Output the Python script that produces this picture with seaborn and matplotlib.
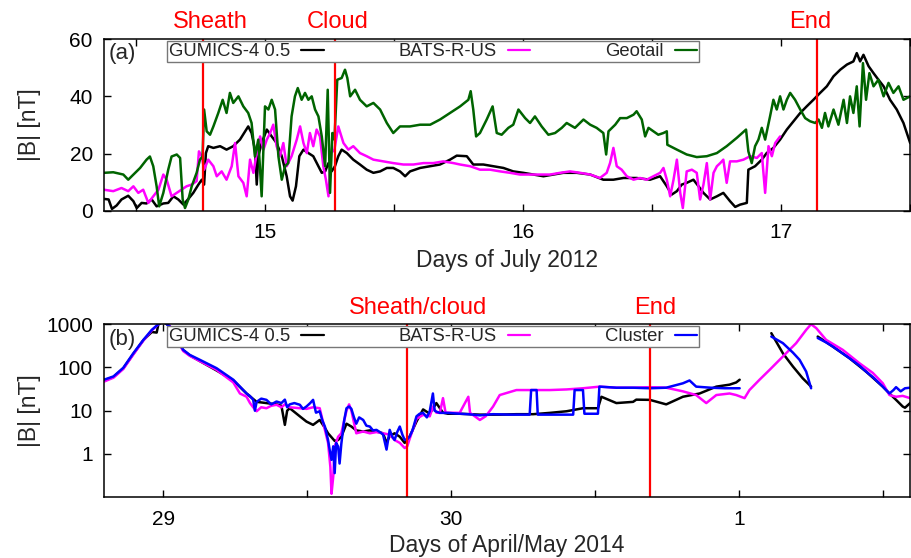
import numpy as np
import pandas as pd
import seaborn as sns
import matplotlib.pyplot as plt
from matplotlib.lines import Line2D
from matplotlib.ticker import NullLocator

sns.set_theme(style="ticks")
plt.rcParams['font.family'] = ['Liberation Sans', 'DejaVu Sans']

# ---- panel (a): July 2012 ----
gumics_a_t = [14.376, 14.394, 14.407, 14.425, 14.444, 14.470, 14.490, 14.503, 14.522, 14.541, 14.561, 14.580,
              14.606, 14.625, 14.645, 14.664, 14.684, 14.703, 14.722, 14.742, 14.755, 14.764, 14.771, 14.780,
              14.800, 14.826, 14.851, 14.877, 14.903, 14.923, 14.935, 14.948, 14.961, 14.968, 14.974, 14.987,
              15.007, 15.026, 15.045, 15.065, 15.084, 15.097, 15.107, 15.120, 15.133, 15.149, 15.168, 15.187,
              15.207, 15.220, 15.233, 15.246, 15.258, 15.271, 15.284, 15.297, 15.317, 15.342, 15.368, 15.394,
              15.420, 15.446, 15.472, 15.497, 15.523, 15.543, 15.562, 15.601, 15.640, 15.678, 15.717, 15.743,
              15.782, 15.807, 15.846, 15.885, 15.924, 15.962, 16.001, 16.040, 16.079, 16.118, 16.156, 16.208,
              16.260, 16.311, 16.350, 16.389, 16.440, 16.492, 16.531, 16.557, 16.576, 16.596, 16.615, 16.634,
              16.660, 16.680, 16.699, 16.725, 16.751, 16.776, 16.802, 16.822, 16.841, 16.867, 16.873, 16.899,
              16.925, 16.944, 16.970, 16.996, 17.022, 17.048, 17.074, 17.099, 17.125, 17.151, 17.177, 17.203,
              17.229, 17.255, 17.280, 17.293, 17.306, 17.319, 17.339, 17.358, 17.377, 17.397, 17.422, 17.448,
              17.474, 17.500]
gumics_a_b = [4.2, 4.0, 0.7, 1.9, 4.0, 5.3, 3.4, 1.0, 2.8, 2.6, 4.0, 1.6,
              2.6, 2.8, 5.1, 4.0, 2.2, 4.2, 6.3, 9.2, 10.9, 9.2, 20.2, 22.6,
              22.0, 22.6, 21.4, 22.6, 24.9, 27.8, 29.5, 27.2, 21.4, 9.2, 19.1, 23.7,
              28.4, 26.0, 23.7, 19.1, 12.1, 5.1, 3.6, 8.6, 19.1, 21.4, 20.2, 19.1,
              15.6, 13.3, 13.8, 16.7, 13.8, 15.6, 19.1, 21.4, 20.2, 17.9, 16.2, 14.4,
              13.3, 13.8, 15.0, 15.0, 13.8, 12.1, 13.8, 15.0, 15.6, 16.2, 17.9, 19.3,
              19.1, 16.2, 16.2, 15.6, 15.0, 13.8, 13.3, 12.7, 12.1, 12.7, 13.3, 13.3,
              12.7, 10.9, 10.9, 11.5, 11.5, 10.9, 12.1, 8.6, 5.7, 6.9, 9.2, 9.8,
              10.9, 8.6, 6.3, 4.0, 5.1, 6.3, 3.4, 1.4, 2.2, 2.8, 14.4, 15.6,
              17.9, 20.2, 22.0, 24.9, 28.4, 31.3, 34.2, 36.5, 38.8, 41.2, 43.5, 47.0,
              49.3, 51.1, 52.2, 55.1, 52.2, 54.5, 50.5, 48.1, 45.8, 43.5, 38.8, 35.4,
              30.7, 23.7]

bats_a_t = [14.376, 14.412, 14.444, 14.470, 14.490, 14.509, 14.528, 14.548, 14.567, 14.587, 14.606, 14.619,
            14.638, 14.658, 14.677, 14.696, 14.716, 14.735, 14.744, 14.755, 14.764, 14.780, 14.800, 14.813,
            14.832, 14.851, 14.871, 14.884, 14.897, 14.916, 14.929, 14.942, 14.955, 14.968, 14.981, 14.994,
            15.007, 15.020, 15.032, 15.045, 15.058, 15.071, 15.084, 15.103, 15.123, 15.136, 15.149, 15.162,
            15.174, 15.187, 15.200, 15.213, 15.226, 15.236, 15.246, 15.256, 15.269, 15.284, 15.304, 15.323,
            15.342, 15.368, 15.394, 15.420, 15.459, 15.497, 15.536, 15.575, 15.614, 15.652, 15.691, 15.730,
            15.756, 15.795, 15.833, 15.872, 15.911, 15.950, 15.988, 16.027, 16.066, 16.105, 16.143, 16.182,
            16.221, 16.260, 16.298, 16.324, 16.337, 16.350, 16.363, 16.382, 16.402, 16.428, 16.453, 16.479,
            16.505, 16.531, 16.544, 16.557, 16.570, 16.583, 16.596, 16.609, 16.619, 16.634, 16.654, 16.673,
            16.686, 16.699, 16.712, 16.725, 16.738, 16.751, 16.764, 16.776, 16.789, 16.802, 16.828, 16.854,
            16.880, 16.906, 16.925, 16.938, 16.951, 16.964, 16.977, 16.996]
bats_a_b = [7.4, 6.9, 8.0, 6.9, 8.6, 6.3, 7.4, 2.8, 5.1, 7.4, 12.7, 10.9,
            5.1, 6.3, 7.4, 8.6, 9.2, 10.4, 20.8, 19.1, 14.4, 17.9, 15.6, 12.1,
            13.8, 10.9, 15.6, 23.7, 12.1, 9.8, 5.1, 17.9, 13.3, 20.2, 26.0, 21.4,
            24.9, 27.2, 30.1, 22.6, 19.1, 23.7, 15.6, 19.1, 24.9, 29.5, 23.7, 20.2,
            27.2, 22.6, 28.4, 26.0, 15.6, 10.9, 5.1, 20.2, 21.4, 29.5, 23.7, 21.4,
            22.6, 20.2, 19.1, 17.9, 17.3, 16.7, 16.2, 16.2, 16.7, 16.7, 17.3, 16.7,
            16.2, 15.6, 14.4, 14.4, 13.8, 13.3, 12.7, 12.7, 12.7, 12.7, 13.3, 13.8,
            13.3, 12.7, 11.5, 13.3, 16.7, 22.0, 15.6, 14.4, 12.1, 10.9, 11.5, 10.9,
            12.1, 13.3, 15.0, 10.9, 5.1, 10.9, 17.9, 6.3, 1.0, 13.8, 14.4, 13.3,
            4.0, 9.2, 16.7, 4.0, 13.3, 15.6, 16.7, 17.9, 9.8, 17.3, 17.3, 17.9,
            19.1, 18.5, 20.2, 6.3, 22.6, 19.1, 23.7, 26.0]

geotail_t = [14.376, 14.412, 14.451, 14.470, 14.490, 14.516, 14.541, 14.554, 14.567, 14.580, 14.590, 14.606,
             14.625, 14.638, 14.658, 14.671, 14.681, 14.690, 14.703, 14.716, 14.735, 14.748, 14.758, 14.764,
             14.774, 14.787, 14.800, 14.819, 14.836, 14.851, 14.864, 14.877, 14.897, 14.916, 14.935, 14.948,
             14.961, 14.974, 14.987, 15.000, 15.013, 15.026, 15.039, 15.052, 15.065, 15.078, 15.090, 15.103,
             15.116, 15.127, 15.142, 15.155, 15.168, 15.181, 15.194, 15.207, 15.220, 15.233, 15.243, 15.252,
             15.261, 15.269, 15.280, 15.297, 15.310, 15.319, 15.330, 15.349, 15.368, 15.394, 15.420, 15.446,
             15.472, 15.497, 15.523, 15.562, 15.601, 15.640, 15.678, 15.717, 15.756, 15.788, 15.797, 15.807,
             15.818, 15.833, 15.859, 15.882, 15.898, 15.917, 15.943, 15.962, 15.982, 16.008, 16.027, 16.046,
             16.072, 16.098, 16.124, 16.150, 16.169, 16.201, 16.234, 16.260, 16.285, 16.311, 16.322, 16.331,
             16.357, 16.376, 16.402, 16.428, 16.440, 16.460, 16.473, 16.486, 16.505, 16.524, 16.544, 16.557,
             16.559, 16.596, 16.634, 16.673, 16.712, 16.751, 16.789, 16.828, 16.864, 16.873, 16.886, 16.899,
             16.912, 16.925, 16.938, 16.957, 16.970, 16.983, 16.996, 17.009, 17.022, 17.035, 17.054, 17.074,
             17.093, 17.112, 17.132, 17.145, 17.158, 17.170, 17.183, 17.203, 17.222, 17.242, 17.255, 17.267,
             17.280, 17.293, 17.304, 17.317, 17.329, 17.342, 17.358, 17.377, 17.397, 17.416, 17.435, 17.455,
             17.474, 17.500]
geotail_b = [13.3, 13.5, 12.7, 10.9, 12.7, 15.0, 17.9, 19.0, 15.6, 8.6, 1.6, 6.3,
             14.4, 19.0, 19.7, 18.5, 4.0, 1.0, 4.0, 8.6, 13.3, 17.9, 19.0, 35.4,
             27.8, 26.6, 29.5, 34.2, 38.8, 34.2, 41.2, 37.7, 40.0, 36.5, 34.2, 30.7,
             19.0, 24.9, 5.1, 36.5, 35.4, 38.8, 35.4, 19.0, 10.9, 15.6, 16.7, 33.0,
             40.0, 42.9, 38.8, 41.2, 38.8, 40.0, 35.4, 33.0, 26.0, 15.6, 42.3, 6.3,
             27.2, 24.9, 45.8, 46.4, 49.3, 46.4, 40.0, 42.3, 38.8, 36.5, 37.7, 35.4,
             30.7, 27.2, 29.5, 29.5, 30.1, 30.1, 31.9, 34.2, 36.5, 38.8, 41.8, 35.4,
             26.0, 27.2, 31.9, 36.5, 27.2, 26.6, 29.0, 30.1, 35.4, 32.4, 30.7, 33.0,
             29.5, 26.6, 27.2, 29.0, 30.7, 29.0, 31.9, 30.1, 29.0, 27.2, 19.7, 27.8,
             30.1, 32.4, 32.4, 33.6, 34.8, 31.9, 26.0, 29.0, 27.8, 26.6, 27.2, 27.8,
             23.1, 21.4, 19.7, 18.8, 19.1, 20.2, 22.6, 25.5, 28.4, 20.8, 16.7, 22.6,
             24.9, 29.0, 24.9, 33.0, 38.8, 35.4, 40.0, 35.4, 38.8, 41.2, 38.8, 35.4,
             32.4, 31.3, 30.7, 31.9, 29.0, 34.2, 29.5, 35.4, 30.1, 38.8, 30.7, 40.0,
             34.2, 43.5, 29.5, 51.6, 38.8, 48.1, 43.5, 45.8, 40.0, 44.7, 41.2, 43.5,
             38.8, 40.0]

# ---- panel (b): April/May 2014 (May 1 = day 31), nan = data gap ----
gumics_b_t = [28.794, 28.827, 28.861, 28.896, 28.931, 28.960, 28.977, 28.983, 29.000, 29.023, 29.046, 29.069,
              29.092, 29.127, 29.185, 29.243, 29.289, 29.324, 29.358, 29.393, 29.410, 29.422, 29.430, 29.439,
              29.474, 29.497, 29.520, 29.543, 29.561, 29.572, 29.595, 29.607, 29.618, 29.636, 29.653, 29.670,
              29.694, 29.717, 29.740, 29.763, 29.775, 29.786, 29.803, 29.821, 29.838, 29.855, 29.879, 29.902,
              29.925, 29.948, 29.971, 29.988, 30.029, 30.099, 30.168, 30.226, 30.284, 30.342, 30.400, 30.457,
              30.509, 30.521, 30.573, 30.631, 30.642, 30.689, 30.746, 30.804, 30.862, 30.920, 30.966, 30.989,
              31.001, 31.05, 31.111, 31.151, 31.186, 31.220, 31.249, 31.26, 31.272, 31.324, 31.382, 31.440,
              31.498, 31.521, 31.544, 31.567, 31.575, 31.593]
gumics_b_b = [50, 60, 95, 205, 430, 660, 640, 1000, 1150, 880, 470, 250,
              190, 140, 85, 50, 25, 16, 15, 14, 13, 4.7, 10, 11.4,
              7.4, 5.6, 4.7, 6.1, 4.0, 3.0, 2.0, 2.1, 2.5, 5.0, 4.3, 3.5,
              3.3, 3.5, 3.3, 3.0, 1.8, 2.6, 3.0, 2.5, 1.8, 2.5, 5.6, 10.7,
              8.5, 15, 9.0, 8.5, 8.5, 8.1, 8.1, 8.3, 8.3, 8.9, 9.7, 11.4,
              11.4, 21, 15, 16, 18, 17.8, 14, 21, 25, 36, 40, 45,
              52, np.nan, 620, 213, 105, 56, 36, np.nan, 518, 305, 164, 80,
              36, 25, 17.8, 12.5, 11.7, 15]

bats_b_t = [28.794, 28.827, 28.861, 28.896, 28.931, 28.960, 28.983, 29.000, 29.023, 29.046, 29.069, 29.092,
            29.127, 29.185, 29.243, 29.266, 29.289, 29.301, 29.312, 29.324, 29.340, 29.358, 29.375, 29.393,
            29.410, 29.422, 29.439, 29.474, 29.497, 29.520, 29.543, 29.561, 29.572, 29.580, 29.584, 29.590,
            29.595, 29.607, 29.618, 29.636, 29.645, 29.653, 29.670, 29.694, 29.717, 29.740, 29.763, 29.786,
            29.803, 29.821, 29.838, 29.847, 29.855, 29.879, 29.902, 29.925, 29.936, 29.948, 29.960, 29.971,
            29.980, 30.029, 30.059, 30.065, 30.099, 30.120, 30.145, 30.168, 30.226, 30.284, 30.342, 30.400,
            30.457, 30.515, 30.573, 30.631, 30.689, 30.746, 30.804, 30.850, 30.885, 30.920, 30.966, 30.989,
            31.018, 31.035, 31.070, 31.105, 31.151, 31.197, 31.232, 31.249, 31.267, 31.301, 31.359, 31.417,
            31.463, 31.498, 31.521, 31.544, 31.567, 31.593]
bats_b_b = [47, 58, 92, 200, 420, 720, 1000, 1200, 900, 450, 240, 185,
            140, 88, 45, 25, 21, 15, 12, 9.7, 12, 11.4, 13, 13.7,
            12, 14, 12, 11.4, 11, 12, 11.4, 3.6, 1.8, 0.5, 0.12, 0.3,
            1.48, 2.5, 3.0, 10, 14, 10, 3.0, 3.3, 3.0, 3.2, 3.0, 2.8,
            2.1, 1.8, 1.37, 1.5, 2.2, 6.5, 8.0, 7.4, 12.5, 9.0, 8.9, 19.5,
            9.0, 8.9, 21, 8.9, 6.1, 7.5, 12.5, 23, 30, 30, 30, 31,
            33, 36, 34, 34, 35, 34, 28, 23, 15, 23, 25, 23,
            19.5, 30, 52, 88, 179, 364, 740, 1000, 810, 435, 255, 125,
            75, 43, 23, 21, 22, 19.5]

cluster_t = [28.794, 28.827, 28.861, 28.896, 28.931, 28.960, 28.983, 29.000, 29.023, 29.046, 29.069, 29.092,
             29.127, 29.185, 29.243, 29.289, 29.300, 29.312, 29.318, 29.324, 29.340, 29.358, 29.375, 29.393,
             29.410, 29.422, 29.430, 29.439, 29.455, 29.474, 29.485, 29.497, 29.510, 29.520, 29.530, 29.543,
             29.552, 29.561, 29.572, 29.578, 29.584, 29.590, 29.595, 29.600, 29.607, 29.612, 29.618, 29.628,
             29.636, 29.645, 29.653, 29.662, 29.670, 29.680, 29.694, 29.705, 29.717, 29.728, 29.740, 29.752,
             29.763, 29.775, 29.786, 29.795, 29.803, 29.812, 29.821, 29.830, 29.838, 29.847, 29.855, 29.865,
             29.879, 29.890, 29.902, 29.915, 29.925, 29.936, 29.942, 29.948, 29.960, 29.971, 29.988, 30.029,
             30.059, 30.099, 30.145, 30.200, 30.272, 30.277, 30.296, 30.300, 30.400, 30.423, 30.428, 30.457,
             30.462, 30.509, 30.514, 30.573, 30.631, 30.689, 30.746, 30.804, 30.827, 30.850, 30.900, 30.950,
             31.001, 31.05, 31.111, 31.151, 31.186, 31.209, 31.232, 31.249, 31.26, 31.272, 31.301, 31.324,
             31.359, 31.382, 31.417, 31.440, 31.463, 31.498, 31.521, 31.535, 31.544, 31.560, 31.575, 31.593]
cluster_b = [52, 62, 98, 213, 435, 740, 1000, 1150, 880, 475, 255, 195,
             150, 96, 52, 25, 22, 18, 10, 16, 19, 17.8, 14, 16.3,
             15, 18, 12, 14, 15, 13.7, 11, 12.5, 15, 17.8, 9.0, 9.7,
             6.0, 4.3, 2.1, 1.2, 0.73, 1.5, 0.36, 1.8, 1.48, 0.6, 1.7, 6.0,
             11.4, 12.5, 11, 7.0, 5.0, 7.0, 6.1, 4.5, 4.3, 3.5, 3.6, 3.2,
             2.8, 1.26, 3.6, 2.5, 2.1, 3.2, 4.3, 2.8, 2.1, 2.2, 2.5, 3.5,
             7.4, 8.5, 8.9, 7.0, 9.7, 25, 10, 9.5, 8.9, 8.9, 8.9, 8.5,
             8.3, 7.8, 8.3, 8.1, 8.1, 30, 30, 8.1, 8.1, 8.1, 30, 30,
             8.5, 8.5, 36, 34, 34, 33, 34, 43, 50, 36, 34, 33,
             33, np.nan, 518, 365, 220, 150, 80, 33, np.nan, 480, 380, 305,
             210, 164, 110, 80, 60, 36, 25, 30, 35, 28, 33, 34]

event_a_x = [14.76, 15.27, 17.14]
event_a_label_x = [14.787, 15.283, 17.112]
event_a_labels = ["Sheath", "Cloud", "End"]
event_b_x = [29.845, 30.69]
event_b_label_x = [29.885, 30.708]
event_b_labels = ["Sheath/cloud", "End"]


def to_long(series):
    frames = []
    for name, t, b in series:
        d = pd.DataFrame({"day": t, "B": b})
        d["seg"] = name + d["B"].isna().cumsum().astype(str)
        d["model"] = name
        frames.append(d.dropna())
    return pd.concat(frames, ignore_index=True)


def draw_panel(ax, series, colors, events, label_x, labels, label_y, tag):
    df = to_long(series)
    names = [s[0] for s in series]
    sns.lineplot(data=df, x="day", y="B", hue="model", hue_order=names, units="seg",
                 estimator=None, sort=False, palette=colors, lw=1.8, ax=ax, legend=False)
    for x in events:
        ax.axvline(x, color="red", lw=1.6)
    for x, lab in zip(label_x, labels):
        ax.text(x, label_y, lab, color="red", fontsize=17, ha="center", va="center",
                transform=ax.get_xaxis_transform())
    handles = [Line2D([], [], color=c, lw=1.6) for c in colors]
    ax.legend(handles, names, ncol=3, markerfirst=False, loc="upper left", mode="expand",
              bbox_to_anchor=(0.078, 0.0, 0.66, 0.99), fontsize=13.3, frameon=True, fancybox=False,
              edgecolor="#777777", framealpha=1, borderpad=0.12, handlelength=1.2,
              handletextpad=0.6, borderaxespad=0)
    ax.text(0.006, 0.975, tag, transform=ax.transAxes, fontsize=16, ha="left", va="top")
    ax.tick_params(direction="in", top=True, right=True, length=5, width=1,
                   labelsize=15, colors="black")
    ax.tick_params(axis="x", pad=9)
    ax.tick_params(axis="y", pad=8)
    for sp in ax.spines.values():
        sp.set_visible(True)
        sp.set_color("black")
        sp.set_linewidth(1.1)


fig = plt.figure(figsize=(9.12, 5.58), dpi=100)
ax1 = fig.add_axes([0.114, 0.622, 0.884, 0.308])
ax2 = fig.add_axes([0.114, 0.109, 0.884, 0.310])

draw_panel(ax1,
           [("GUMICS-4 0.5", gumics_a_t, gumics_a_b),
            ("BATS-R-US", bats_a_t, bats_a_b),
            ("Geotail", geotail_t, geotail_b)],
           ["black", "#ff00ff", "#006400"], event_a_x, event_a_label_x, event_a_labels, 1.1, "(a)")
ax1.set_xlim(14.376, 17.5)
ax1.set_ylim(0, 60)
ax1.set_yticks([0, 20, 40, 60])
ax1.set_xticks([14.5, 15, 15.5, 16, 16.5, 17, 17.5])
ax1.set_xticklabels(["", "15", "", "16", "", "17", ""])
ax1.set_xlabel("Days of July 2012", fontsize=16.5, labelpad=5)
ax1.set_ylabel("|B| [nT]", fontsize=16.5)
ax1.yaxis.set_label_coords(-0.078, 0.5)

draw_panel(ax2,
           [("GUMICS-4 0.5", gumics_b_t, gumics_b_b),
            ("BATS-R-US", bats_b_t, bats_b_b),
            ("Cluster", cluster_t, cluster_b)],
           ["black", "#ff00ff", "#0000ff"], event_b_x, event_b_label_x, event_b_labels, 1.092, "(b)")
ax2.set_yscale("log")
ax2.set_xlim(28.794, 31.593)
ax2.set_ylim(0.1, 1000)
ax2.set_yticks([1, 10, 100, 1000])
ax2.set_yticklabels(["1", "10", "100", "1000"])
ax2.yaxis.set_minor_locator(NullLocator())
ax2.set_xticks([29, 29.5, 30, 30.5, 31, 31.5])
ax2.set_xticklabels(["29", "", "30", "", "1", ""])
ax2.set_xlabel("Days of April/May 2014", fontsize=16.5, labelpad=4)
ax2.set_ylabel("|B| [nT]", fontsize=16.5)
ax2.yaxis.set_label_coords(-0.078, 0.5)

fig.savefig("out.png", dpi=100)
